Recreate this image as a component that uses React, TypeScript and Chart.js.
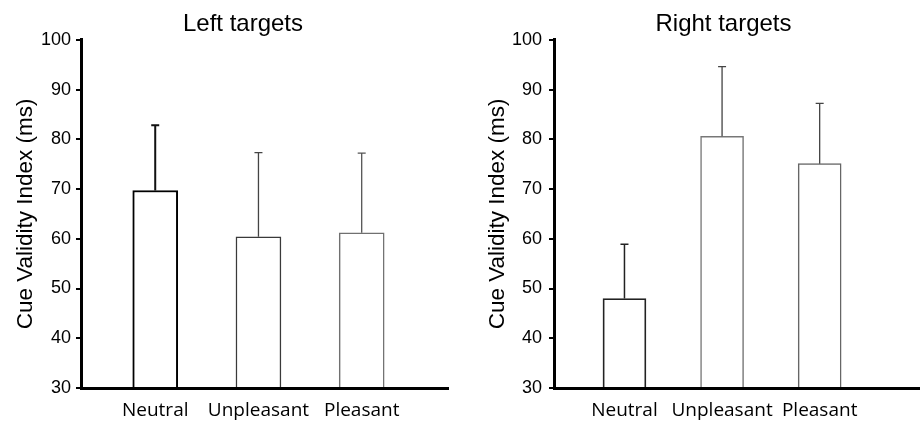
import React, { useEffect, useRef } from 'react';
import { Chart, registerables } from 'chart.js';

Chart.register(...registerables);

// ---- data ----
const categories = ['Neutral', 'Unpleasant', 'Pleasant'];
const leftValues = [69.7, 60.4, 61.2];
const leftErrors = [13.1, 16.9, 16.0];
const rightValues = [48.0, 80.6, 75.1];
const rightErrors = [10.9, 14.0, 12.1];
const yTickValues = [30, 40, 50, 60, 70, 80, 90, 100];
const yTitle = 'Cue Validity Index (ms)';
const leftTitle = 'Left targets';
const rightTitle = 'Right targets';

type Panel = {
  title: string;
  values: number[];
  errors: number[];
  canvasLeft: number;
  canvasWidth: number;
  axisWidth: number;
  rightSpace: number;
  xMin: number;
  xMax: number;
  barThickness: number;
  borderColors: string[];
  borderWidths: number[];
  errColors: string[];
  errWidths: number[];
  yTitlePad: number;
  tickPad: number;
};

const panels: Panel[] = [
  {
    title: leftTitle,
    values: leftValues,
    errors: leftErrors,
    canvasLeft: 0,
    canvasWidth: 486,
    axisWidth: 81,
    rightSpace: 38,
    xMin: 0.281,
    xMax: 3.836,
    barThickness: 45,
    borderColors: ['#000000', '#3a3a3a', '#707070'],
    borderWidths: [2, 1.5, 1.5],
    errColors: ['#111111', '#444444', '#555555'],
    errWidths: [2, 1.3, 1.3],
    yTitlePad: 12,
    tickPad: 5,
  },
  {
    title: rightTitle,
    values: rightValues,
    errors: rightErrors,
    canvasLeft: 480,
    canvasWidth: 487,
    axisWidth: 74,
    rightSpace: 47,
    xMin: 0.278,
    xMax: 4.028,
    barThickness: 43,
    borderColors: ['#222222', '#777777', '#666666'],
    borderWidths: [1.8, 1.5, 1.5],
    errColors: ['#222222', '#444444', '#444444'],
    errWidths: [1.5, 1.3, 1.3],
    yTitlePad: 4,
    tickPad: 7,
  },
];

const SANS = '"Liberation Sans", Arial, sans-serif';

function makeChart(canvas: HTMLCanvasElement, p: Panel) {
  const errorBars = {
    id: 'errorBars',
    afterDatasetsDraw(chart: any) {
      const ctx = chart.ctx;
      const yScale = chart.scales.y;
      const meta = chart.getDatasetMeta(0);
      meta.data.forEach((bar: any, i: number) => {
        const yTop = yScale.getPixelForValue(p.values[i] + p.errors[i]);
        const yBase = yScale.getPixelForValue(p.values[i]);
        ctx.save();
        ctx.strokeStyle = p.errColors[i];
        ctx.lineWidth = p.errWidths[i];
        ctx.beginPath();
        ctx.moveTo(bar.x, yBase);
        ctx.lineTo(bar.x, yTop);
        ctx.moveTo(bar.x - 4, yTop);
        ctx.lineTo(bar.x + 4, yTop);
        ctx.stroke();
        ctx.restore();
      });
    },
  };

  return new Chart(canvas, {
    type: 'bar',
    data: {
      datasets: [
        {
          data: p.values.map((v, i) => ({ x: i + 1, y: v })),
          backgroundColor: '#ffffff',
          borderColor: p.borderColors,
          borderWidth: p.borderWidths,
          barThickness: p.barThickness,
          borderSkipped: 'bottom',
        },
      ],
    },
    plugins: [errorBars],
    options: {
      animation: false,
      responsive: false,
      devicePixelRatio: 1,
      layout: { padding: 0 },
      plugins: {
        legend: { display: false },
        tooltip: { enabled: false },
        title: {
          display: true,
          text: p.title,
          color: '#000',
          font: { family: SANS, size: 24, weight: 'normal' },
          padding: { top: 10, bottom: 1 },
        },
      },
      scales: {
        x: {
          type: 'linear',
          offset: false,
          min: p.xMin,
          max: p.xMax,
          grid: { display: false, drawTicks: false },
          border: { display: true, color: '#000', width: 3, z: 1 },
          afterFit: (scale: any) => {
            scale.height = 33;
          },
          afterBuildTicks: (scale: any) => {
            scale.ticks = categories.map((_, i) => ({ value: i + 1 }));
          },
          ticks: {
            padding: 11,
            color: '#000',
            font: { family: '"Open Sans", "Noto Sans", sans-serif', size: 19 },
            maxRotation: 0,
            autoSkip: false,
            callback: (value: any) => categories[Math.round(Number(value)) - 1] ?? '',
          },
        },
        y: {
          type: 'linear',
          position: 'left',
          min: 30,
          max: 100,
          grid: {
            display: true,
            drawOnChartArea: false,
            drawTicks: true,
            tickLength: 5,
            color: '#000',
            lineWidth: 2,
          },
          border: { display: true, color: '#000', width: 3, z: 1 },
          afterFit: (scale: any) => {
            scale.width = p.axisWidth;
          },
          afterBuildTicks: (scale: any) => {
            scale.ticks = yTickValues.map((v) => ({ value: v }));
          },
          ticks: {
            padding: p.tickPad,
            color: '#000',
            font: { family: SANS, size: 18 },
          },
          title: {
            display: true,
            text: yTitle,
            color: '#000',
            font: { family: SANS, size: 22.5 },
            padding: { top: p.yTitlePad, bottom: 0 },
          },
        },
        spacer: {
          type: 'linear',
          position: 'right',
          min: 0,
          max: 1,
          grid: { display: false, drawTicks: false },
          border: { display: false },
          ticks: { display: false },
          afterFit: (scale: any) => {
            scale.width = p.rightSpace;
          },
        },
      },
    },
  } as any);
}

function ChartPanel({ p }: { p: Panel }) {
  const ref = useRef<HTMLCanvasElement | null>(null);
  useEffect(() => {
    if (!ref.current) return;
    const chart = makeChart(ref.current, p);
    return () => chart.destroy();
  }, [p]);
  return (
    <canvas
      ref={ref}
      width={p.canvasWidth}
      height={421}
      style={{ position: 'absolute', left: p.canvasLeft, top: 0, width: p.canvasWidth, height: 421 }}
    />
  );
}

export default function App() {
  return (
    <div
      style={{
        position: 'fixed',
        left: 0,
        top: 0,
        width: 920,
        height: 421,
        overflow: 'hidden',
        background: '#ffffff',
      }}
    >
      {panels.map((p) => (
        <ChartPanel key={p.title} p={p} />
      ))}
    </div>
  );
}
